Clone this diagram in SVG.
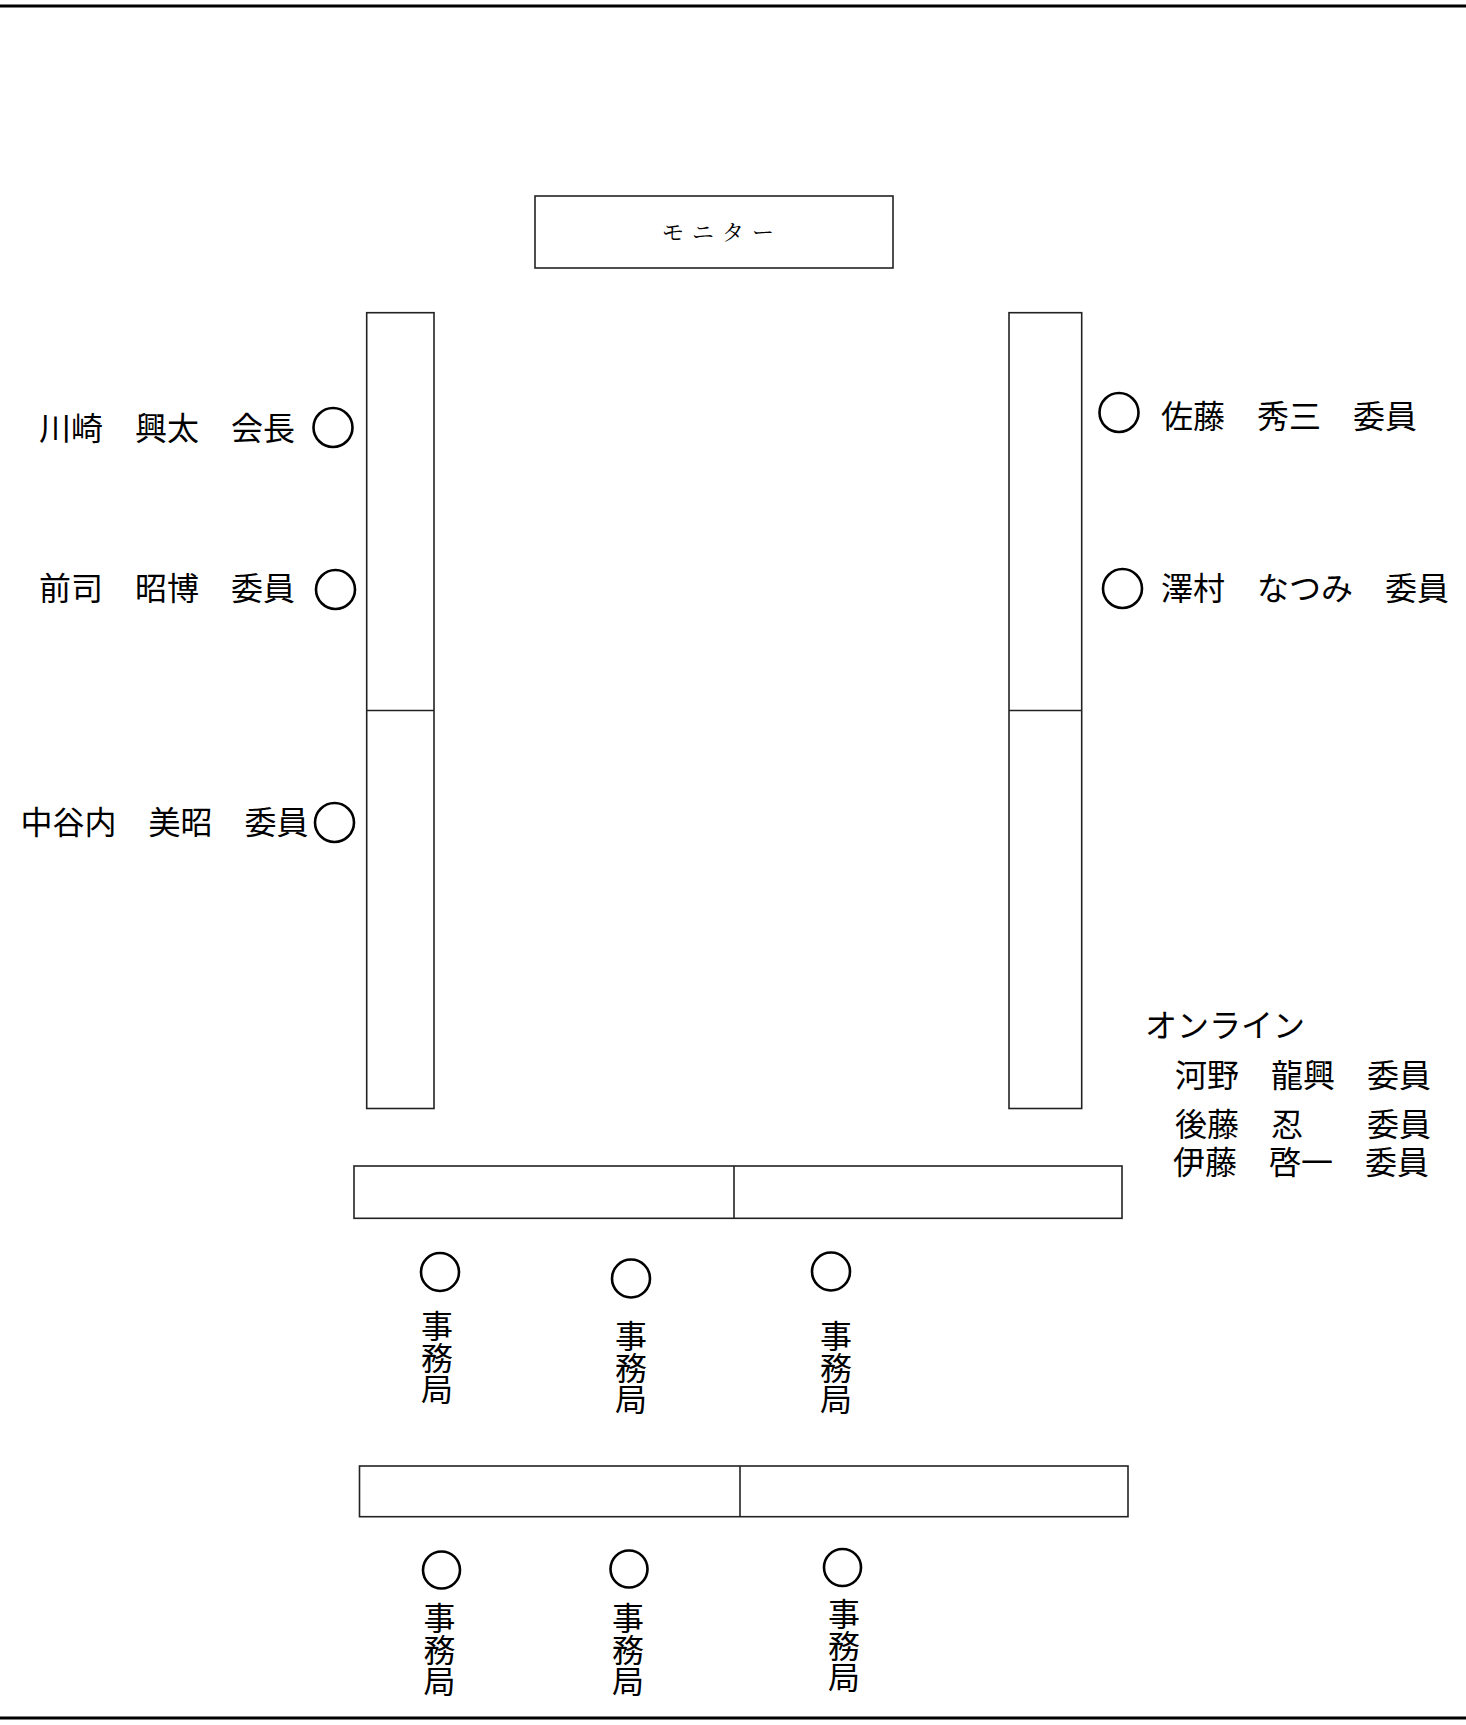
<svg xmlns="http://www.w3.org/2000/svg" width="1466" height="1725" viewBox="0 0 1466 1725">
<style>
.frame{stroke:#000;stroke-width:3;fill:none}
.box{fill:#fff;stroke:#222;stroke-width:1.6}
.div{stroke:#222;stroke-width:1.6}
.seat{fill:none;stroke:#000;stroke-width:2.6}
.lbl{font-family:"Noto Sans CJK JP","Noto Sans CJK SC",sans-serif;font-size:32px;fill:#000}
.vt{font-family:"Noto Sans CJK JP","Noto Sans CJK SC",sans-serif;font-size:32px;fill:#000;writing-mode:vertical-rl;text-orientation:upright;dominant-baseline:central;letter-spacing:-0.5px}
.mon{font-family:"Noto Serif CJK JP","Noto Sans CJK JP",serif;font-size:22px;fill:#000;letter-spacing:8px}
</style>
<rect width="1466" height="1725" fill="#fff"/>
<line class="frame" x1="0" y1="6" x2="1466" y2="6"/>
<line class="frame" x1="0" y1="1718" x2="1466" y2="1718"/>

<g id="monitor">
<rect class="box" x="535" y="196" width="358" height="72"/>
<text class="mon" x="662" y="240">モニター</text>
</g>

<g id="left-table">
<rect class="box" x="366.7" y="312.7" width="67.3" height="795.8"/>
<line class="div" x1="366.7" y1="710.5" x2="434" y2="710.5"/>
</g>
<g id="right-table">
<rect class="box" x="1009" y="312.7" width="72.7" height="795.8"/>
<line class="div" x1="1009" y1="710.5" x2="1081.7" y2="710.5"/>
</g>
<g id="front-table">
<rect class="box" x="354" y="1166" width="768" height="52.3"/>
<line class="div" x1="734" y1="1166" x2="734" y2="1218.3"/>
</g>
<g id="back-table">
<rect class="box" x="359.5" y="1466" width="768.5" height="50.7"/>
<line class="div" x1="740" y1="1466" x2="740" y2="1516.7"/>
</g>

<g id="seat-kawasaki">
<circle class="seat" cx="333" cy="427.5" r="19.5"/>
<text class="lbl" x="39" y="440">川崎　興太　会長</text>
</g>
<g id="seat-maeji">
<circle class="seat" cx="335.5" cy="589.5" r="19.5"/>
<text class="lbl" x="39" y="600">前司　昭博　委員</text>
</g>
<g id="seat-nakayachi">
<circle class="seat" cx="334.5" cy="822.5" r="19.5"/>
<text class="lbl" x="20.5" y="834">中谷内　美昭　委員</text>
</g>
<g id="seat-sato">
<circle class="seat" cx="1119" cy="412.5" r="19.5"/>
<text class="lbl" x="1161" y="428">佐藤　秀三　委員</text>
</g>
<g id="seat-sawamura">
<circle class="seat" cx="1122.5" cy="588.5" r="19.5"/>
<text class="lbl" x="1161" y="600">澤村　なつみ　委員</text>
</g>

<g id="online">
<text class="lbl" x="1145" y="1037">オンライン</text>
<text class="lbl" x="1175" y="1087">河野　龍興　委員</text>
<text class="lbl" x="1175" y="1136">後藤　忍　　委員</text>
<text class="lbl" x="1173" y="1174">伊藤　啓一　委員</text>
</g>

<g id="staff-1">
<circle class="seat" cx="440" cy="1272" r="19"/>
<text class="vt" x="437" y="1310">事務局</text>
</g>
<g id="staff-2">
<circle class="seat" cx="631" cy="1278.5" r="19"/>
<text class="vt" x="631" y="1320">事務局</text>
</g>
<g id="staff-3">
<circle class="seat" cx="831" cy="1271.5" r="19"/>
<text class="vt" x="836" y="1320">事務局</text>
</g>
<g id="staff-4">
<circle class="seat" cx="441.5" cy="1570" r="18.5"/>
<text class="vt" x="439.5" y="1602">事務局</text>
</g>
<g id="staff-5">
<circle class="seat" cx="629" cy="1569" r="18.5"/>
<text class="vt" x="628" y="1602">事務局</text>
</g>
<g id="staff-6">
<circle class="seat" cx="842.5" cy="1567.5" r="18.5"/>
<text class="vt" x="844" y="1598">事務局</text>
</g>
<g id="connectors"></g>
</svg>
